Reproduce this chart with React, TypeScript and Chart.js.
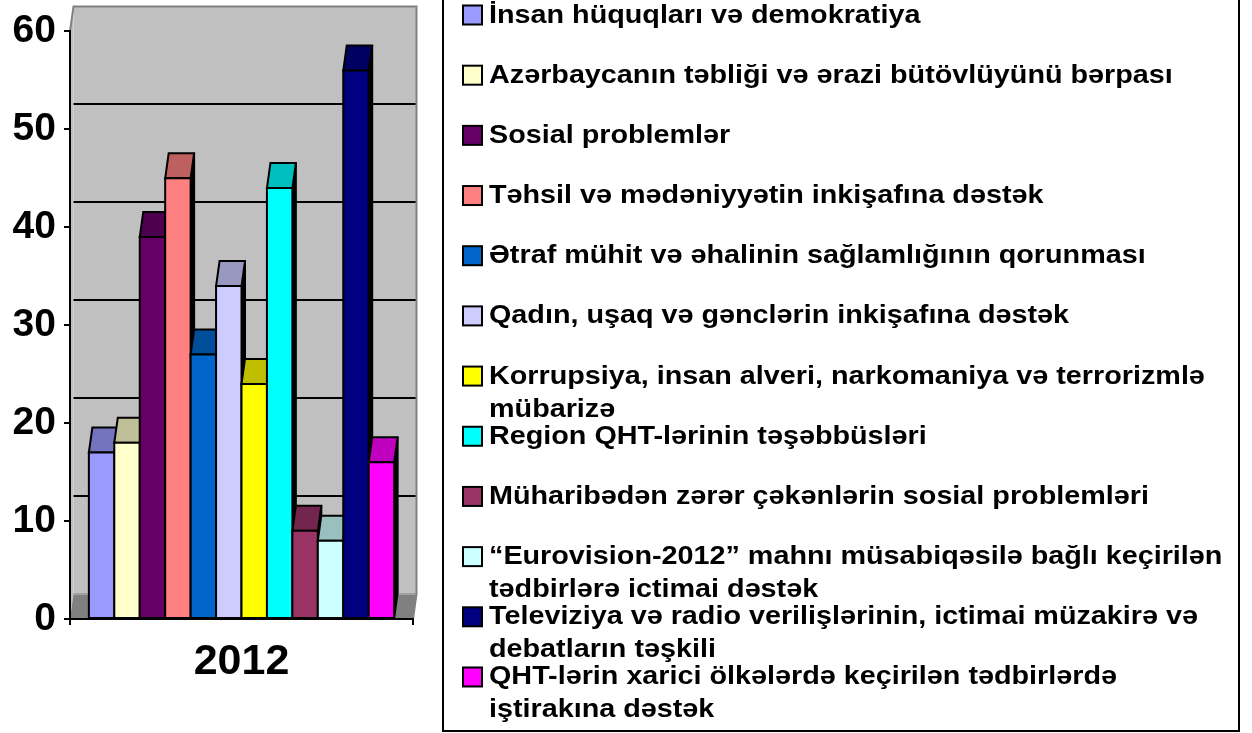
import React, { useEffect, useRef } from 'react';
import { Chart, registerables } from 'chart.js';

Chart.register(...registerables);

const categories = ['2012'];

const seriesLabels = [
  'İnsan hüquqları və demokratiya',
  'Azərbaycanın təbliği və ərazi bütövlüyünü bərpası',
  'Sosial problemlər',
  'Təhsil və mədəniyyətin inkişafına dəstək',
  'Ətraf mühit və əhalinin sağlamlığının qorunması',
  'Qadın, uşaq və gənclərin inkişafına dəstək',
  'Korrupsiya, insan alveri, narkomaniya və terrorizmlə mübarizə',
  'Region QHT-lərinin təşəbbüsləri',
  'Müharibədən zərər çəkənlərin sosial problemləri',
  '“Eurovision-2012” mahnı müsabiqəsilə bağlı keçirilən tədbirlərə ictimai dəstək',
  'Televiziya və radio verilişlərinin, ictimai müzakirə və debatların təşkili',
  'QHT-lərin xarici ölkələrdə keçirilən tədbirlərdə iştirakına dəstək',
];

const seriesValues = [17, 18, 39, 45, 27, 34, 24, 44, 9, 8, 56, 16];

const seriesColors = [
  '#9999FF', '#FFFFCC', '#660066', '#FF8080', '#0066CC', '#CCCCFF',
  '#FFFF00', '#00FFFF', '#993366', '#CCFFFF', '#000080', '#FF00FF',
];

const yMin = 0;
const yMax = 60;
const yStep = 10;

const FONT = '"Liberation Sans", Arial, sans-serif';
const DX = 3.5;
const DY = 25;
const LEGEND_SX = 1.15;

function shade(hex: string, f: number): string {
  const n = parseInt(hex.slice(1), 16);
  const r = Math.round(((n >> 16) & 255) * f);
  const g = Math.round(((n >> 8) & 255) * f);
  const b = Math.round((n & 255) * f);
  return `rgb(${r},${g},${b})`;
}

function poly(ctx: CanvasRenderingContext2D, pts: number[][], fill: string, stroke?: string, lw = 2) {
  ctx.beginPath();
  ctx.moveTo(pts[0][0], pts[0][1]);
  for (let i = 1; i < pts.length; i++) ctx.lineTo(pts[i][0], pts[i][1]);
  ctx.closePath();
  ctx.fillStyle = fill;
  ctx.fill();
  if (stroke) {
    ctx.lineWidth = lw;
    ctx.strokeStyle = stroke;
    ctx.stroke();
  }
}

function wrap(ctx: CanvasRenderingContext2D, text: string, maxW: number): string[] {
  const words = text.split(' ');
  const lines: string[] = [];
  let cur = '';
  for (const w of words) {
    const t = cur ? cur + ' ' + w : w;
    if (cur && ctx.measureText(t).width * LEGEND_SX > maxW) {
      lines.push(cur);
      cur = w;
    } else cur = t;
  }
  if (cur) lines.push(cur);
  return lines;
}

const chart3dPlugin = {
  id: 'chart3d',
  beforeDraw(chart: any) {
    const { ctx, chartArea: a } = chart;
    const ys = chart.scales.y;
    ctx.save();
    ctx.fillStyle = '#C0C0C0';
    ctx.fillRect(a.left + DX, a.top - DY, a.right - a.left, a.bottom - a.top);
    poly(ctx, [[a.left, a.top], [a.left + DX, a.top - DY], [a.left + DX, a.bottom - DY], [a.left, a.bottom]], '#C0C0C0');
    ctx.strokeStyle = '#000';
    ctx.lineWidth = 2;
    for (let v = yMin + yStep; v < yMax; v += yStep) {
      const yy = Math.round(ys.getPixelForValue(v) - DY);
      ctx.beginPath();
      ctx.moveTo(a.left + DX, yy);
      ctx.lineTo(a.right + DX, yy);
      ctx.stroke();
    }
    poly(ctx, [[a.left, a.bottom], [a.left + DX, a.bottom - DY], [a.right + DX, a.bottom - DY], [a.right, a.bottom]], '#808080');
    ctx.strokeStyle = '#A0A0A0';
    ctx.lineWidth = 2;
    ctx.beginPath();
    ctx.moveTo(a.left + DX, a.bottom - DY);
    ctx.lineTo(a.right + DX, a.bottom - DY);
    ctx.stroke();
    ctx.strokeStyle = '#808080';
    ctx.lineWidth = 2;
    ctx.beginPath();
    ctx.moveTo(a.left, a.top);
    ctx.lineTo(a.left + DX, a.top - DY);
    ctx.lineTo(a.right + DX, a.top - DY);
    ctx.lineTo(a.right + DX, a.bottom - DY);
    ctx.lineTo(a.right, a.bottom);
    ctx.stroke();
    ctx.restore();
  },
  beforeDatasetsDraw(chart: any) {
    const { ctx } = chart;
    ctx.save();
    ctx.lineJoin = 'miter';
    chart.data.datasets.forEach((ds: any, i: number) => {
      const meta = chart.getDatasetMeta(i);
      meta.data.forEach((el: any) => {
        const { x, y, base, width } = el.getProps(['x', 'y', 'base', 'width'], true);
        const l = x - width / 2;
        const r = x + width / 2;
        const col = ds.backgroundColor as string;
        poly(ctx, [[r, y], [r + DX, y - DY], [r + DX, base - DY], [r, base]], '#000', '#000');
        poly(ctx, [[l, y], [l + DX, y - DY], [r + DX, y - DY], [r, y]], shade(col, 0.75), '#000');
        poly(ctx, [[l, y], [r, y], [r, base], [l, base]], col, '#000');
      });
    });
    ctx.restore();
    return false;
  },
  afterDraw(chart: any) {
    const { ctx } = chart;
    ctx.save();
    ctx.strokeStyle = '#000';
    ctx.lineWidth = 2;
    ctx.strokeRect(443, -5, 796, 736);
    ctx.font = `bold 25px ${FONT}`;
    ctx.textAlign = 'left';
    ctx.textBaseline = 'alphabetic';
    chart.data.datasets.forEach((ds: any, i: number) => {
      const cy = 15 + 60.18 * i;
      ctx.fillStyle = ds.backgroundColor;
      ctx.fillRect(463, cy - 9.5, 19, 19);
      ctx.lineWidth = 2;
      ctx.strokeStyle = '#000';
      ctx.strokeRect(463, cy - 9.5, 19, 19);
      ctx.fillStyle = '#000';
      const lines = wrap(ctx, ds.label, 742);
      lines.forEach((ln, j) => {
        ctx.save();
        ctx.translate(489, cy + 7.5 + j * 33);
        ctx.scale(LEGEND_SX, 1);
        ctx.fillText(ln, 0, 0);
        ctx.restore();
      });
    });
    ctx.restore();
  },
};

export default function App() {
  const ref = useRef<HTMLCanvasElement | null>(null);
  useEffect(() => {
    if (!ref.current) return;
    const chart = new Chart(ref.current, {
      type: 'bar',
      data: {
        labels: categories,
        datasets: seriesLabels.map((label, i) => ({
          label,
          data: [seriesValues[i]],
          backgroundColor: seriesColors[i],
          borderWidth: 0,
        })),
      },
      options: {
        responsive: false,
        animation: false,
        devicePixelRatio: 1,
        datasets: { bar: { categoryPercentage: 0.89, barPercentage: 1 } },
        layout: { padding: { top: 30, right: 839, left: 0, bottom: 0 } },
        plugins: { legend: { display: false }, tooltip: { enabled: false } },
        scales: {
          x: {
            afterFit: (s: any) => { s.height = 114; },
            grid: { drawOnChartArea: false, drawTicks: true, tickLength: 6, color: '#000', lineWidth: 2 },
            border: { display: true, color: '#000', width: 2 },
            ticks: { color: '#000', padding: 11, font: { family: FONT, size: 43, weight: 'bold' } },
          },
          y: {
            min: yMin,
            max: yMax,
            afterFit: (s: any) => { s.width = 70; },
            grid: { drawOnChartArea: false, drawTicks: true, tickLength: 6, color: '#000', lineWidth: 2 },
            border: { display: true, color: '#000', width: 2 },
            ticks: { stepSize: yStep, color: '#000', padding: 8, font: { family: FONT, size: 39, weight: 'bold' } },
          },
        },
      } as any,
      plugins: [chart3dPlugin],
    });
    return () => chart.destroy();
  }, []);
  return (
    <div style={{ position: 'fixed', left: 0, top: 0, width: 1252, height: 733, background: '#fff' }}>
      <canvas ref={ref} width={1252} height={733} style={{ width: 1252, height: 733 }} />
    </div>
  );
}
